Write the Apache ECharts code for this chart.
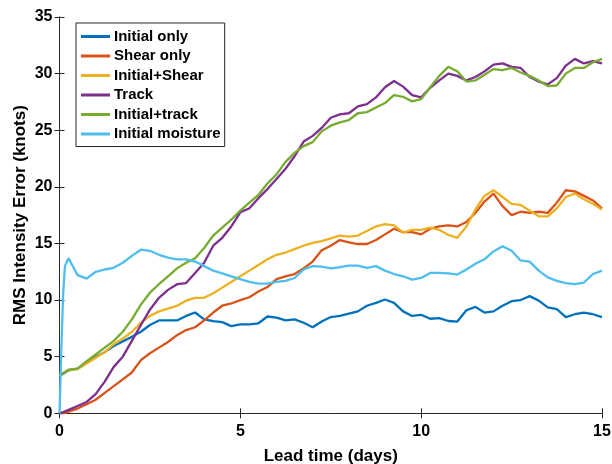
<!DOCTYPE html>
<html>
<head>
<meta charset="utf-8">
<script src="https://cdn.jsdelivr.net/npm/echarts@6/dist/echarts.min.js"></script>
<style>html,body{margin:0;padding:0;background:#fff}#c{width:612px;height:464px}</style>
</head>
<body>
<div id="c"></div>
<script>
var days = [0,0.05,0.1,0.15,0.25,0.5,0.75,1,1.25,1.5,1.75,2,2.25,2.5,2.75,3,3.25,3.5,3.75,4,4.25,4.5,4.75,5,5.25,5.5,5.75,6,6.25,6.5,6.75,7,7.25,7.5,7.75,8,8.25,8.5,8.75,9,9.25,9.5,9.75,10,10.25,10.5,10.75,11,11.25,11.5,11.75,12,12.25,12.5,12.75,13,13.25,13.5,13.75,14,14.25,14.5,14.75,15];

var initialOnly = [3.3,3.4,3.5,3.6,3.8,3.95,4.5,5.0,5.4,5.95,6.35,6.75,7.2,7.8,8.2,8.2,8.2,8.6,8.9,8.3,8.15,8.05,7.7,7.85,7.85,7.95,8.55,8.45,8.2,8.3,8.0,7.6,8.1,8.5,8.6,8.8,9.0,9.5,9.75,10.05,9.75,9.0,8.6,8.7,8.35,8.4,8.15,8.1,9.1,9.4,8.9,9.0,9.5,9.9,10.0,10.35,9.95,9.35,9.2,8.5,8.75,8.9,8.75,8.5];
var shearOnly = [0,0,0,0.05,0.15,0.42,0.8,1.2,1.8,2.4,3.0,3.6,4.7,5.3,5.8,6.3,6.9,7.35,7.6,8.2,8.9,9.5,9.7,10.0,10.25,10.75,11.15,11.85,12.1,12.3,12.8,13.4,14.4,14.8,15.3,15.1,14.95,14.95,15.3,15.8,16.3,16.0,16.0,15.8,16.3,16.5,16.6,16.5,16.9,17.7,18.7,19.4,18.3,17.5,17.8,17.7,17.8,17.7,18.6,19.7,19.6,19.2,18.8,18.1];
var initialShear = [3.3,3.4,3.55,3.65,3.8,3.9,4.4,4.9,5.4,6.1,6.6,7.2,8.0,8.6,9.0,9.25,9.5,9.95,10.2,10.2,10.6,11.1,11.6,12.1,12.6,13.1,13.6,14.0,14.2,14.5,14.8,15.05,15.2,15.45,15.7,15.6,15.7,16.1,16.5,16.7,16.6,15.95,16.2,16.2,16.4,16.2,15.75,15.5,16.5,18.0,19.2,19.7,19.1,18.5,18.4,17.9,17.4,17.4,18.1,19.1,19.4,18.9,18.5,18.0];
var track = [0,0.05,0.1,0.15,0.3,0.65,1.0,1.7,2.8,4.1,5.0,6.4,7.8,9.15,10.2,10.9,11.4,11.5,12.4,13.3,14.8,15.5,16.5,17.75,18.1,19.0,19.8,20.7,21.6,22.7,24.0,24.5,25.2,26.1,26.4,26.5,27.1,27.3,27.9,28.8,29.35,28.85,28.1,27.9,28.75,29.4,30.0,29.8,29.4,29.7,30.2,30.8,30.9,30.6,30.5,29.7,29.3,29.05,29.6,30.7,31.3,30.9,31.1,30.9];
var initialTrack = [3.3,3.4,3.55,3.65,3.85,3.95,4.6,5.2,5.8,6.4,7.2,8.3,9.6,10.65,11.4,12.1,12.8,13.3,13.7,14.6,15.7,16.4,17.1,17.9,18.6,19.3,20.3,21.1,22.2,23.0,23.6,23.95,24.9,25.4,25.7,25.9,26.5,26.6,27.0,27.4,28.1,27.95,27.55,27.75,28.8,29.8,30.6,30.2,29.3,29.4,29.9,30.4,30.3,30.5,30.1,29.8,29.4,28.9,28.95,30.0,30.5,30.5,31.0,31.3];
var initialMoisture = [0,5.5,10.5,13.0,13.7,12.2,11.9,12.5,12.7,12.85,13.3,13.9,14.45,14.35,14.0,13.75,13.6,13.6,13.4,13.0,12.6,12.35,12.1,11.85,11.6,11.45,11.45,11.6,11.7,11.95,12.7,13.0,12.95,12.8,12.9,13.05,13.05,12.85,13.0,12.6,12.3,12.1,11.8,11.95,12.4,12.4,12.35,12.25,12.7,13.2,13.6,14.3,14.75,14.35,13.5,13.4,12.6,12.0,11.7,11.5,11.4,11.55,12.3,12.6];

var seriesNames = ['Initial only','Shear only','Initial+Shear','Track','Initial+track','Initial moisture'];
var seriesValues = [initialOnly, shearOnly, initialShear, track, initialTrack, initialMoisture];
var colors = ['#0072BD','#D95319','#EDB120','#7E2F8E','#77AC30','#4DBEEE'];

var xTicks = {min:0, max:15, interval:5};
var yTicks = {min:0, max:35, interval:5};

var font = 'Liberation Sans, Arial, sans-serif';
var axisColor = '#262626';

function pairs(vals){ return days.map(function(d,i){ return [d, vals[i]]; }); }

var chart = echarts.init(document.getElementById('c'), null, {renderer:'canvas'});
var mirrorAxis = {
  axisLine:{show:true, lineStyle:{color:axisColor, width:1}},
  axisTick:{show:true, inside:true, length:5, lineStyle:{color:axisColor}},
  axisLabel:{show:false}, splitLine:{show:false}
};
chart.setOption({
  animation:false,
  color: colors,
  grid:{left:59.5, right:10, top:17, bottom:50.7, containLabel:false, outerBoundsMode:'none'},
  legend:{
    orient:'vertical', left:76, top:23,
    backgroundColor:'#fff', borderColor:'#262626', borderWidth:1,
    padding:[5,4,4,5], icon:'rect', itemWidth:29, itemHeight:3, itemGap:2.5,
    textStyle:{fontFamily:font, fontWeight:'bold', fontSize:15, color:'#000', lineHeight:17, padding:[0,0,0,-1]},
    data: seriesNames
  },
  xAxis:[{
    type:'value', min:xTicks.min, max:xTicks.max, interval:xTicks.interval,
    name:'Lead time (days)', nameLocation:'middle', nameGap:35, nameMoveOverlap:false,
    nameTextStyle:{fontFamily:font, fontWeight:'bold', fontSize:17, color:'#000'},
    axisLine:{show:true, onZero:false, lineStyle:{color:axisColor, width:1}},
    axisTick:{show:true, inside:true, length:5, lineStyle:{color:axisColor}},
    axisLabel:{fontFamily:font, fontWeight:'bold', fontSize:16, color:'#000', margin:10},
    splitLine:{show:false}
  }, Object.assign({type:'value', position:'top', min:xTicks.min, max:xTicks.max, interval:xTicks.interval}, mirrorAxis)],
  yAxis:[{
    type:'value', min:yTicks.min, max:yTicks.max, interval:yTicks.interval,
    name:'RMS Intensity Error (knots)', nameLocation:'middle', nameGap:31, nameMoveOverlap:false,
    nameTextStyle:{fontFamily:font, fontWeight:'bold', fontSize:17, color:'#000'},
    axisLine:{show:true, onZero:false, lineStyle:{color:axisColor, width:1}},
    axisTick:{show:true, inside:true, length:5, lineStyle:{color:axisColor}},
    axisLabel:{fontFamily:font, fontWeight:'bold', fontSize:16, color:'#000', margin:7},
    splitLine:{show:false}
  }, Object.assign({type:'value', position:'right', min:yTicks.min, max:yTicks.max, interval:yTicks.interval}, mirrorAxis)],
  series: seriesNames.map(function(n,i){
    return {name:n, type:'line', xAxisIndex:0, yAxisIndex:0, data:pairs(seriesValues[i]),
      symbol:'none', showSymbol:false, smooth:false, lineStyle:{width:2.3, color:colors[i]}, itemStyle:{color:colors[i]}};
  })
});
</script>
</body>
</html>
